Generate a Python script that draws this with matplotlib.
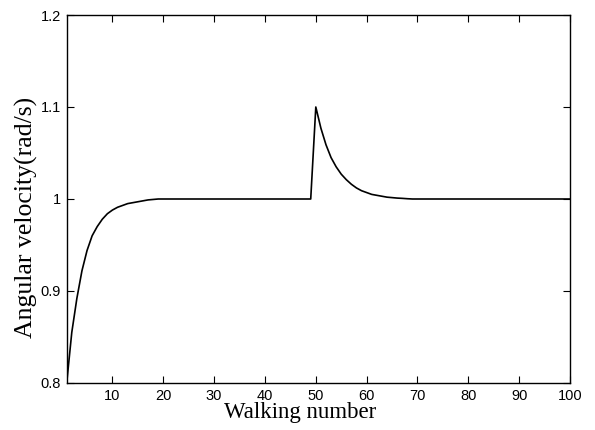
import matplotlib
matplotlib.use("Agg")
import matplotlib.pyplot as plt

# Walking number 1..100
walk = list(range(1, 101))

# Angular velocity (rad/s)
rise = [0.800, 0.855, 0.892, 0.922, 0.944, 0.960, 0.970, 0.978, 0.984, 0.988,
        0.991, 0.993, 0.995, 0.996, 0.997, 0.998, 0.999, 0.9995, 1.000, 1.000]
flat1 = [1.000] * 28          # walks 21..48
pre_jump = [1.000]            # walk 49
decay = [1.100, 1.077, 1.059, 1.045, 1.035, 1.027, 1.021, 1.016, 1.012, 1.009,
         1.007, 1.005, 1.004, 1.003, 1.002, 1.0015, 1.001, 1.0007, 1.0003, 1.000]  # walks 50..69
flat2 = [1.000] * 31          # walks 70..100
velocity = rise + flat1 + pre_jump + decay + flat2

xticks = [10, 20, 30, 40, 50, 60, 70, 80, 90, 100]
yticks = [0.8, 0.9, 1.0, 1.1, 1.2]
yticklabels = ["0.8", "0.9", "1", "1.1", "1.2"]

fig = plt.figure(figsize=(5.95, 4.30), dpi=100)
ax = fig.add_axes([66.7 / 595, 1 - 383 / 430, (570 - 66.7) / 595, (383 - 15) / 430])
ax.plot(walk, velocity, color="black", linewidth=1.2)

ax.set_xlim(1, 100)
ax.set_ylim(0.8, 1.2)
ax.set_xticks(xticks)
ax.set_yticks(yticks)
ax.set_yticklabels(yticklabels)
ax.tick_params(direction="in", length=5, width=0.8, top=True, right=True,
               labelsize=10.5, pad=4)
for lbl in ax.get_xticklabels() + ax.get_yticklabels():
    lbl.set_fontfamily("Liberation Sans")
for s in ax.spines.values():
    s.set_linewidth(1.0)

ax.set_xlabel("Walking number", fontfamily="Liberation Serif", fontsize=16.5)
ax.set_ylabel("Angular velocity(rad/s)", fontfamily="Liberation Serif", fontsize=18.5)
ax.xaxis.set_label_coords(0.4636, -0.052, transform=ax.transAxes)
ax.xaxis.label.set_va("top")
ax.yaxis.set_label_coords(-0.058, 0.451, transform=ax.transAxes)

fig.savefig("out.png", dpi=100)
